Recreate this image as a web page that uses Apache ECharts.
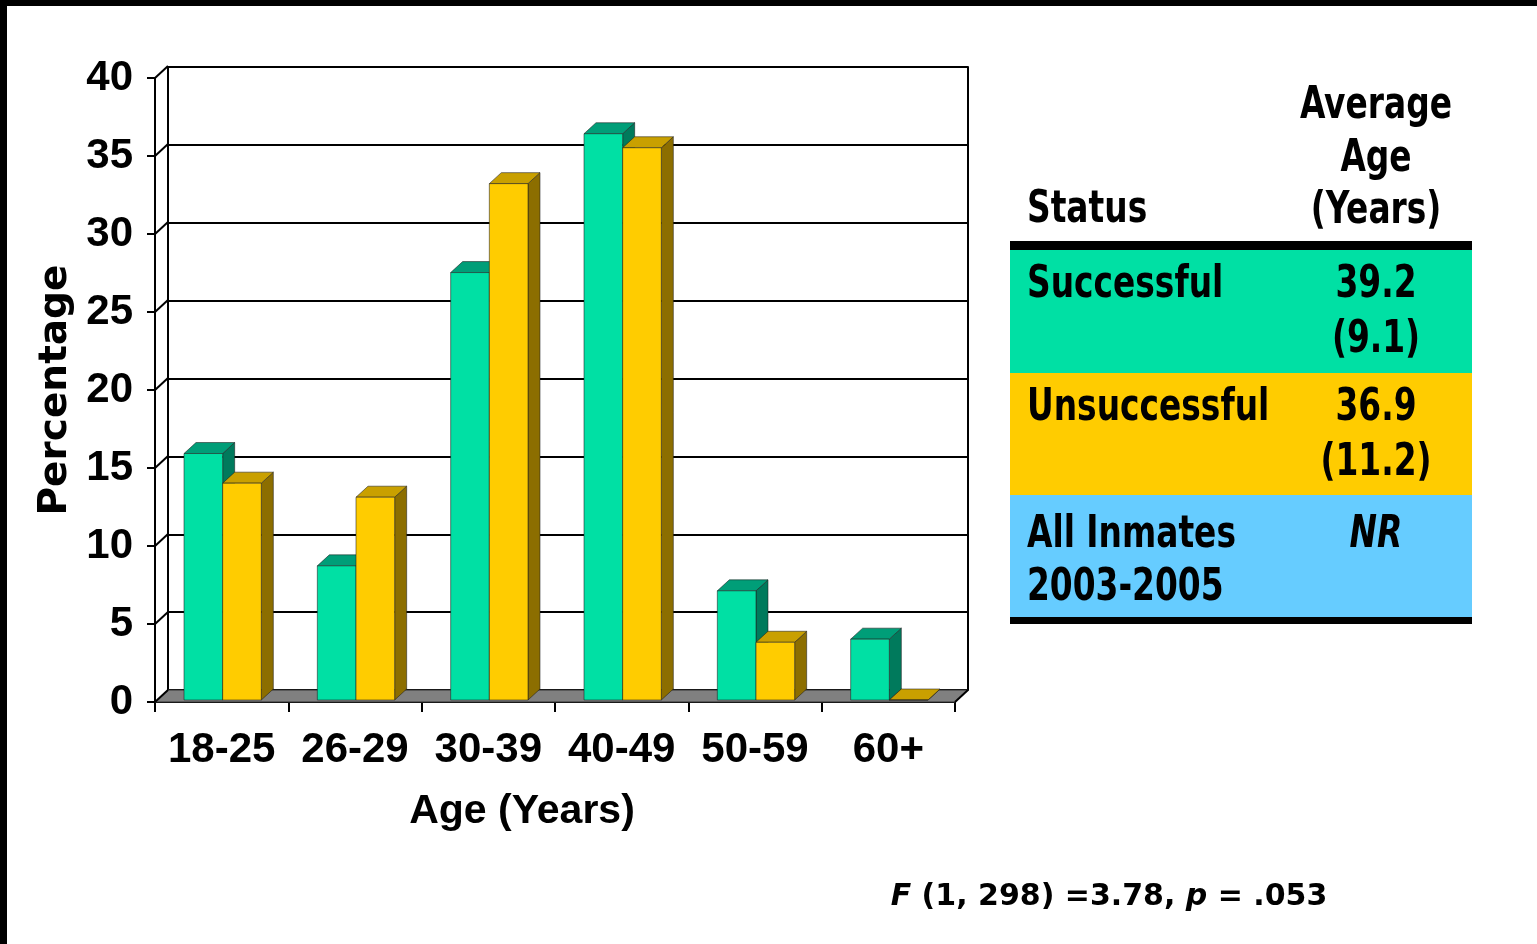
<!DOCTYPE html>
<html>
<head>
<meta charset="utf-8">
<script src="https://cdn.jsdelivr.net/npm/echarts@6/dist/echarts.min.js"></script>
<style>
html,body{margin:0;padding:0;background:#fff;}
#chart{width:1537px;height:944px;}
</style>
</head>
<body>
<div id="chart"></div>
<script>
// ---- data ----
const categories = ['18-25', '26-29', '30-39', '40-49', '50-59', '60+'];
const successful = [15.8, 8.6, 27.4, 36.3, 7.0, 3.9];
const unsuccessful = [13.9, 13.0, 33.1, 35.4, 3.7, 0];
const yTicks = [0, 5, 10, 15, 20, 25, 30, 35, 40];
const tableHeader = ['Status', 'Average', 'Age', '(Years)'];
const tableStatus = [['Successful'], ['Unsuccessful'], ['All Inmates', '2003-2005']];
const tableMean = ['39.2', '36.9', 'NR'];
const tableSD = ['(9.1)', '(11.2)', ''];
const statsNote = '{i|F} (1, 298) =3.78, {i|p} = .053';

// ---- style ----
const COND = "'DejaVu Sans Condensed', 'DejaVu Sans', sans-serif";
const ARIAL = "'Liberation Sans', Arial, sans-serif";
const GREEN = {front: '#00E0A4', top: '#009E78', side: '#007A5C'};
const YELLOW = {front: '#FFCC00', top: '#C9A000', side: '#8C6E00'};
const DEPTH_X = 12, DEPTH_Y = 11;   // bar depth projection
const WALL_X = 13, WALL_Y = 12;     // wall depth projection

function barRenderer(side, col) {
  return function (params, api) {
    const idx = api.value(0), val = api.value(1);
    const base = api.coord([idx, 0]);
    const top = api.coord([idx, val]);
    const band = api.size([1, 0])[0];
    const w = band * 0.29;
    const sx = 1, sy = -2;
    const x0 = base[0] + (side < 0 ? -w : 0) + sx;
    const x1 = x0 + w;
    const yb = base[1] + sy, yt = top[1] + sy;
    const stroke = 'rgba(30,30,30,0.55)';
    return {
      type: 'group',
      children: [
        {type: 'polygon', shape: {points: [[x1, yb], [x1, yt], [x1 + DEPTH_X, yt - DEPTH_Y], [x1 + DEPTH_X, yb - DEPTH_Y]]},
         style: {fill: col.side, stroke: stroke, lineWidth: 1}},
        {type: 'polygon', shape: {points: [[x0, yt], [x1, yt], [x1 + DEPTH_X, yt - DEPTH_Y], [x0 + DEPTH_X, yt - DEPTH_Y]]},
         style: {fill: col.top, stroke: stroke, lineWidth: 1}},
        {type: 'rect', shape: {x: x0, y: yt, width: w, height: yb - yt},
         style: {fill: col.front, stroke: stroke, lineWidth: 1}}
      ]
    };
  };
}

const chart = echarts.init(document.getElementById('chart'), null, {renderer: 'canvas'});

const tableGraphics = [];
const TX = 1010, TW = 462, TLEFT = 1027, TCOL = 1376, SX = 0.83;
const rowFills = [GREEN.front, YELLOW.front, '#66CCFF'];
const rowTops = [250, 373, 495];
const rowH = [123, 122, 122];
tableGraphics.push({type: 'rect', shape: {x: TX, y: 241, width: TW, height: 9}, style: {fill: '#000'}});
rowFills.forEach((f, i) => {
  tableGraphics.push({type: 'rect', shape: {x: TX, y: rowTops[i], width: TW, height: rowH[i]}, style: {fill: f}});
});
tableGraphics.push({type: 'rect', shape: {x: TX, y: 617, width: TW, height: 7}, style: {fill: '#000'}});
const tFont = {fontFamily: COND, fontWeight: 'bold', fontSize: 44, fill: '#000'};
function tText(t, x, y, align, extra) {
  return {type: 'text', x: x, y: y, scaleX: SX,
          style: Object.assign({text: t, align: align, verticalAlign: 'middle'}, tFont, extra || {})};
}
tableGraphics.push(tText(tableHeader[0], TLEFT, 211, 'left'));
[107, 160, 212].forEach((y, i) => tableGraphics.push(tText(tableHeader[i + 1], TCOL, y, 'center')));
const line1 = [286, 409, 536];
tableStatus.forEach((lines, i) => {
  lines.forEach((t, j) => tableGraphics.push(tText(t, TLEFT, line1[i] + j * 53, 'left')));
  tableGraphics.push(tText(tableMean[i], TCOL, line1[i], 'center', i === 2 ? {fontStyle: 'italic'} : null));
  if (tableSD[i]) tableGraphics.push(tText(tableSD[i], TCOL, line1[i] + 55, 'center'));
});

const option = {
  backgroundColor: '#ffffff',
  animation: false,
  grid: [
    {left: 155, right: 582, top: 78, bottom: 242, containLabel: false},
    {left: 168, right: 569, top: 67, bottom: 254, containLabel: false}
  ],
  xAxis: [
    {
      type: 'category', gridIndex: 0, data: categories,
      axisLine: {show: true, onZero: false, lineStyle: {color: '#000', width: 2}},
      axisTick: {show: true, length: 10, inside: false, interval: 0, lineStyle: {color: '#000', width: 2}},
      axisLabel: {interval: 0, margin: 27, color: '#000', fontFamily: ARIAL, fontWeight: 'bold', fontSize: 42},
      name: 'Age (Years)', nameLocation: 'middle', nameGap: 89,
      nameTextStyle: {color: '#000', fontFamily: ARIAL, fontWeight: 'bold', fontSize: 41, padding: [0, 66, 0, 0]},
      splitLine: {show: false}
    },
    {
      type: 'category', gridIndex: 1, data: categories, show: false
    }
  ],
  yAxis: [
    {
      type: 'value', gridIndex: 0, min: 0, max: 40, interval: 5,
      axisLine: {show: true, onZero: false, lineStyle: {color: '#000', width: 2}},
      axisTick: {show: true, length: 8, lineStyle: {color: '#000', width: 2}},
      axisLabel: {margin: 22, color: '#000', fontFamily: ARIAL, fontWeight: 'bold', fontSize: 42},
      splitLine: {show: false},
      name: 'Percentage', nameLocation: 'middle', nameRotate: 90, nameGap: 80,
      nameTextStyle: {color: '#000', fontFamily: "'DejaVu Sans', sans-serif", fontWeight: 'bold', fontSize: 39}
    },
    {
      type: 'value', gridIndex: 1, min: 0, max: 40, interval: 5, position: 'left',
      axisLine: {show: true, onZero: false, lineStyle: {color: '#000', width: 2}},
      axisTick: {show: false}, axisLabel: {show: false},
      splitLine: {show: true, lineStyle: {color: '#000', width: 2}}
    },
    {
      type: 'value', gridIndex: 1, min: 0, max: 40, interval: 5, position: 'right',
      axisLine: {show: true, onZero: false, lineStyle: {color: '#000', width: 2}},
      axisTick: {show: false}, axisLabel: {show: false}, splitLine: {show: false}
    }
  ],
  series: [
    {
      name: 'floor', type: 'custom', xAxisIndex: 0, yAxisIndex: 0, z: 1, silent: true,
      data: [[0, 0]],
      renderItem: function (params, api) {
        const cs = params.coordSys;
        const yb = cs.y + cs.height, xl = cs.x, xr = cs.x + cs.width;
        return {
          type: 'group',
          children: [
            {type: 'polygon', shape: {points: [[xl, yb], [xr, yb], [xr + WALL_X, yb - WALL_Y], [xl + WALL_X, yb - WALL_Y]]},
             style: {fill: '#808080', stroke: '#333', lineWidth: 1}},
            {type: 'line', shape: {x1: xr, y1: yb, x2: xr + WALL_X, y2: yb - WALL_Y}, style: {stroke: '#000', lineWidth: 2}}
          ]
        };
      }
    },
    {
      name: 'wallLinks', type: 'custom', xAxisIndex: 0, yAxisIndex: 0, z: 1, silent: true,
      data: yTicks.map(v => [0, v]),
      renderItem: function (params, api) {
        const p = api.coord([0, api.value(1)]);
        const x = params.coordSys.x;
        return {type: 'line', shape: {x1: x, y1: p[1], x2: x + WALL_X, y2: p[1] - WALL_Y}, style: {stroke: '#000', lineWidth: 2}};
      }
    },
    {
      name: 'Successful', type: 'custom', xAxisIndex: 0, yAxisIndex: 0, z: 3,
      data: successful.map((v, i) => [i, v]),
      renderItem: barRenderer(-1, GREEN)
    },
    {
      name: 'Unsuccessful', type: 'custom', xAxisIndex: 0, yAxisIndex: 0, z: 4,
      data: unsuccessful.map((v, i) => [i, v]),
      renderItem: barRenderer(1, YELLOW)
    }
  ],
  graphic: [
    {type: 'rect', shape: {x: 0, y: 0, width: 1537, height: 6}, style: {fill: '#000'}},
    {type: 'rect', shape: {x: 0, y: 0, width: 7, height: 944}, style: {fill: '#000'}},
    {type: 'group', children: tableGraphics},
    {type: 'text', x: 1109, y: 897,
     style: {text: statsNote, align: 'center', verticalAlign: 'middle', fontFamily: "'DejaVu Sans', sans-serif", fontWeight: 'bold', fontSize: 30, fill: '#000',
             rich: {i: {fontStyle: 'italic', fontWeight: 'bold', fontFamily: "'DejaVu Sans', sans-serif", fontSize: 30, fill: '#000'}}}}
  ]
};
chart.setOption(option);
</script>
</body>
</html>
